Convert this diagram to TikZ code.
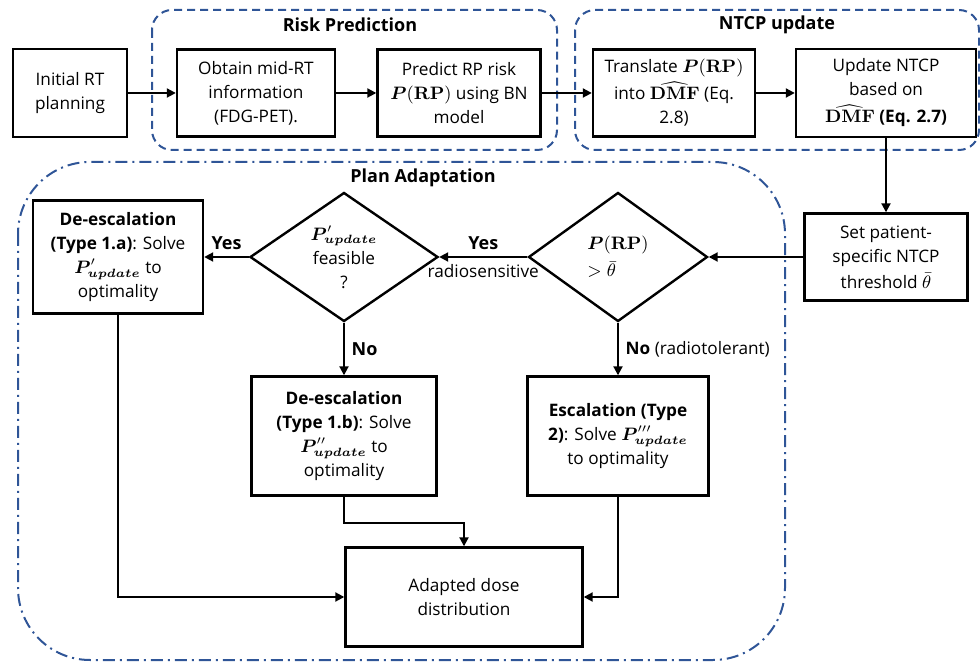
\documentclass[tikz,border=0pt]{standalone}
\usepackage{amsmath,bm}
\usepackage[no-math]{fontspec}
\setmainfont{Open Sans}
\usetikzlibrary{arrows.meta,shapes.geometric}
\definecolor{groupblue}{RGB}{47,85,151}

\tikzset{
  box/.style={draw, line width=1.2pt, align=center, inner sep=1pt},
  decision/.style={draw, diamond, line width=1.2pt, align=center, inner sep=-5pt},
  group/.style={draw=groupblue, line width=1pt, rounded corners=10pt, dash pattern=on 4pt off 2.5pt},
  plan/.style={draw=groupblue, line width=1pt, rounded corners=36pt, dash pattern=on 6pt off 2.5pt on 1pt off 2.5pt},
  grouplabel/.style={font=\fontsize{9}{11}\selectfont\bfseries},
  arrow/.style={-{Triangle[length=4.5pt,width=4.5pt]}, line width=1pt},
  answer/.style={font=\fontsize{9}{11}\selectfont\bfseries},
}

\begin{document}
\begin{tikzpicture}[x=0.5pt,y=-0.5pt,font=\fontsize{8.6}{12}\selectfont]
\useasboundingbox (0,0) rectangle (980,662);

%GROUPS
% risk prediction
\draw[group] (152,10) rectangle (557,150);
\node[grouplabel] (risklabel) at (350,25) {Risk Prediction};
% ntcp update
\draw[group] (575,10) rectangle (979,150);
\node[grouplabel] (ntcplabel) at (777,25) {NTCP update};
% plan adaptation
\draw[plan] (18,162) rectangle (785,660);
\node[grouplabel] (planlabel) at (423,178) {Plan Adaptation};

%TOP ROW
\node[box, minimum width=57pt, minimum height=44pt] (init) at (70,93) {Initial RT\\planning};
\node[box, minimum width=79pt, minimum height=43.5pt] (obtain) at (256,93) {Obtain mid-RT\\information\\(FDG-PET).};
\node[box, minimum width=81.5pt, minimum height=43.5pt] (predict) at (459,93) {Predict RP risk\\$\bm{P}(\mathbf{RP})$ using BN\\model};
\node[box, minimum width=81pt, minimum height=43.5pt] (translate) at (674,93) {Translate $\bm{P}(\mathbf{RP})$\\[1.5pt]into $\widehat{\mathbf{DMF}}$ (Eq.\\2.8)};
\node[box, minimum width=90pt, minimum height=44pt] (update) at (886,93) {Update NTCP\\based on\\[1.5pt]$\widehat{\mathbf{DMF}}$ \textbf{(Eq. 2.7)}};

%DECISIONS
\node[box, minimum width=81.5pt, minimum height=43.5pt] (set) at (886,257) {Set patient-\\specific NTCP\\[1pt]threshold $\bar{\theta}$};
\node[decision, minimum width=89.5pt, minimum height=64.5pt, align=left] (rp) at (618,257) {$\bm{P}(\mathbf{RP})$\\[1.5pt]$>\bar{\theta}$};
\node[decision, minimum width=94pt, minimum height=64.5pt] (feasible) at (344,257) {$\bm{P}'_{\bm{update}}$\\feasible\\?};

%OUTCOMES
\node[box, minimum width=85pt, minimum height=56.5pt] (deesca) at (118,257) {\textbf{De-escalation}\\\textbf{(Type 1.a)}: Solve\\$\bm{P}'_{\bm{update}}$ to\\optimality};
\node[box, minimum width=92.5pt, minimum height=59.5pt] (deescb) at (344,436) {\textbf{De-escalation}\\\textbf{(Type 1.b)}: Solve\\$\bm{P}''_{\bm{update}}$ to\\optimality};
\node[box, minimum width=90.5pt, minimum height=59.5pt] (esc) at (618,436) {\textbf{Escalation (Type}\\\textbf{2)}: Solve $\bm{P}'''_{\bm{update}}$\\to optimality};
\node[box, minimum width=118.5pt, minimum height=49.5pt] (adapted) at (464,597) {Adapted dose\\distribution};

%ARROWS
\draw[arrow] (init) -- (obtain);
\draw[arrow] (obtain) -- (predict);
\draw[arrow] (predict) -- (translate);
\draw[arrow] (translate) -- (update);
\draw[arrow] (update) -- (set);
\draw[arrow] (set) -- (rp);
\draw[arrow] (rp) -- node[answer, above] {Yes} node[below] {radiosensitive} (feasible);
\draw[arrow] (feasible) -- node[answer, above] {Yes} (deesca);
\draw[arrow] (feasible) -- node[answer, right] {No} (deescb);
\draw[arrow] (rp) -- node[right] {\textbf{No} (radiotolerant)} (esc);
\draw[arrow] (deesca) |- (adapted);
\draw[arrow] (deescb.south) -- ++(0,26) -| (adapted.north);
\draw[arrow] (esc) |- (adapted);

\end{tikzpicture}
\end{document}
